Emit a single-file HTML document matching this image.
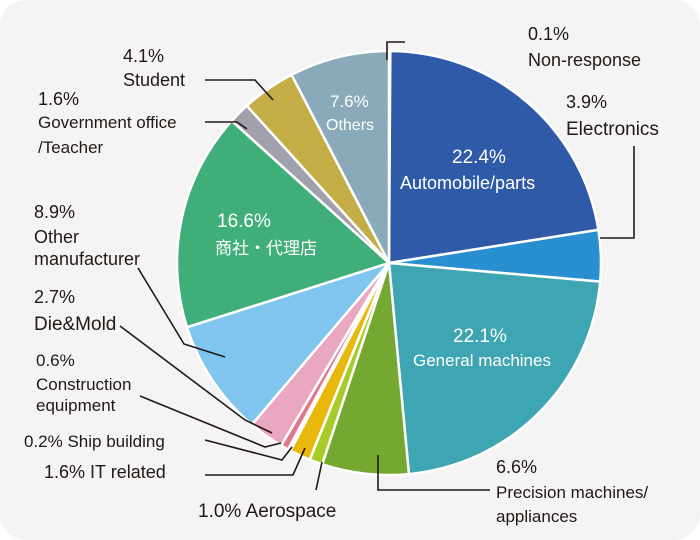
<!DOCTYPE html>
<html><head><meta charset="utf-8"><style>
html,body{margin:0;padding:0;background:#fff}
svg{display:block}
text{font-family:"Liberation Sans","Noto Sans CJK JP",sans-serif}
</style></head><body>
<svg width="700" height="540" viewBox="0 0 700 540">
<rect x="0" y="0" width="700" height="540" rx="26" fill="#f4f4f4"/>
<g id="slices"></g>
<g id="labels" font-size="17" fill="#231815"></g>
</svg>
<script>
const categories = ["Non-response","Automobile/parts","Electronics","General machines","Precision machines/appliances","Aerospace","IT related","Ship building","Construction equipment","Die&Mold","Other manufacturer","商社・代理店","Government office/Teacher","Student","Others"];
const values = [0.1,22.4,3.9,22.1,6.6,1.0,1.6,0.2,0.6,2.7,8.9,16.6,1.6,4.1,7.6];
const colors = ["#c8d4dc","#2f5aa7","#2a8fd1","#3ea5b3","#74a830","#a9cb2a","#e9b80d","#d84a3a","#e0788e","#e9a7c1","#7fc5ed","#40ae79","#a1a1ab","#c4ad47","#8aaab9"];
const cx=389, cy=263, r=212;
const NS="http://www.w3.org/2000/svg";
const total=values.reduce((a,b)=>a+b,0);
function angle(v){return v/total*2*Math.PI;}
function pt(a,rr){return [cx+rr*Math.sin(a), cy-rr*Math.cos(a)];}
const sg=document.getElementById('slices');
let acc=0;
values.forEach((v,i)=>{
  const a0=angle(acc), a1=angle(acc+v); acc+=v;
  const p0=pt(a0,r), p1=pt(a1,r);
  const large=(a1-a0)>Math.PI?1:0;
  const p=document.createElementNS(NS,'path');
  p.setAttribute('d',`M${cx},${cy} L${p0[0]},${p0[1]} A${r},${r} 0 ${large} 1 ${p1[0]},${p1[1]} Z`);
  p.setAttribute('fill',colors[i]);
  p.setAttribute('stroke','#fff');
  p.setAttribute('stroke-width','2.5');
  p.setAttribute('stroke-linejoin','round');
  
  
  sg.appendChild(p);
});
const lg=document.getElementById('labels');
const leaders=[
 "M387,60 L387,42 L405,42",
 "M600,238 L634,238 L634,146",
 "M378,455 L378,490 L490,490",
 "M322,462 L316,490",
 "M305,448 L293,475 L205,475",
 "M292,447 L282,460 L205,440",
 "M281,443 L265,447 L140,396",
 "M272,433 L245,420 L120,326",
 "M225,357 L184,344 L138,268",
 "M247,129 L237,122 L205,122",
 "M273,100 L255,80 L205,80"
];
leaders.forEach((d,i)=>{
  const p=document.createElementNS(NS,'path');
  p.setAttribute('d',d);p.setAttribute('fill','none');p.setAttribute('stroke','#231815');p.setAttribute('stroke-width','1.6');
  
  
  lg.appendChild(p);
});
const texts=[
 [528,40,"0.1%",18,"#231815","label-non-response-pct"],
 [528,66,"Non-response",18,"#231815","label-non-response"],
 [566,108,"3.9%",18,"#231815","label-electronics-pct"],
 [566,135,"Electronics",19,"#231815","label-electronics"],
 [496,473,"6.6%",18,"#231815","label-precision-pct"],
 [496,498,"Precision machines/",17,"#231815","label-precision"],
 [496,522,"appliances",17,"#231815","label-precision-2"],
 [198,517,"1.0% Aerospace",19,"#231815","label-aerospace"],
 [44,478,"1.6% IT related",18,"#231815","label-it"],
 [24,447,"0.2% Ship building",17,"#231815","label-ship"],
 [36,366,"0.6%",17,"#231815","label-construction-pct"],
 [36,390,"Construction",17,"#231815","label-construction"],
 [36,411,"equipment",17,"#231815","label-construction-2"],
 [34,303,"2.7%",18,"#231815","label-diemold-pct"],
 [34,330,"Die&Mold",19,"#231815","label-diemold"],
 [34,218,"8.9%",18,"#231815","label-other-mfr-pct"],
 [34,243,"Other",18,"#231815","label-other-mfr"],
 [34,265,"manufacturer",18,"#231815","label-other-mfr-2"],
 [38,105,"1.6%",18,"#231815","label-gov-pct"],
 [38,128,"Government office",17,"#231815","label-gov"],
 [38,153,"/Teacher",17,"#231815","label-gov-2"],
 [123,62,"4.1%",18,"#231815","label-student-pct"],
 [123,86,"Student",18,"#231815","label-student"],
 [330,107,"7.6%",17,"#ffffff","label-others-pct"],
 [326,130,"Others",16,"#ffffff","label-others"],
 [452,163,"22.4%",19,"#ffffff","label-auto-pct"],
 [400,189,"Automobile/parts",18,"#ffffff","label-auto"],
 [453,342,"22.1%",19,"#ffffff","label-general-pct"],
 [413,366,"General machines",17,"#ffffff","label-general"],
 [217,227,"16.6%",19,"#ffffff","label-shosha-pct"],
 [215,254,"商社・代理店",17,"#ffffff","label-shosha"]
];
texts.forEach(t=>{
  const e=document.createElementNS(NS,'text');
  e.setAttribute('x',t[0]);e.setAttribute('y',t[1]);e.setAttribute('font-size',t[3]);e.setAttribute('fill',t[4]);
  e.textContent=t[2];
  
  
  lg.appendChild(e);
});
</script>
</body></html>
